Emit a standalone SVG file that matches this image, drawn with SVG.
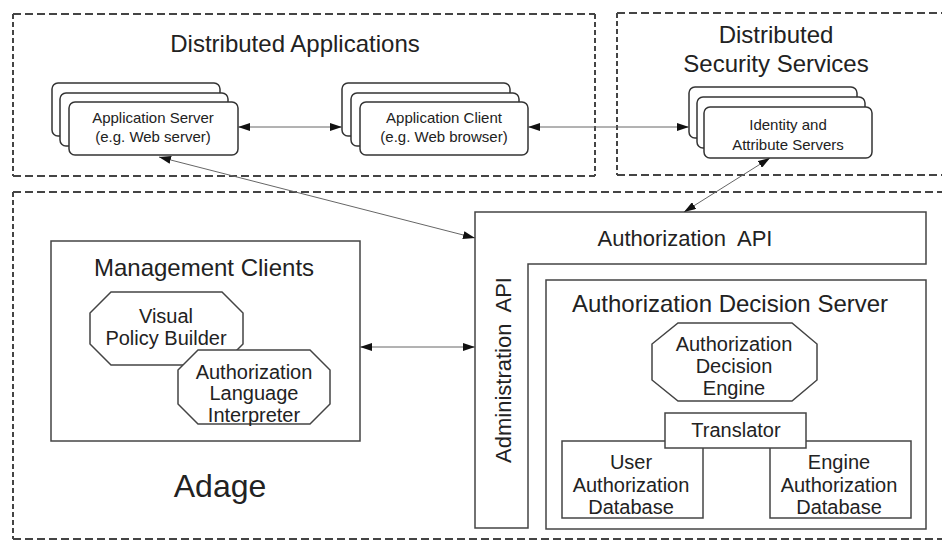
<svg xmlns="http://www.w3.org/2000/svg" width="942" height="543" viewBox="0 0 942 543">
  <defs>
    <marker id="arrow" viewBox="0 0 12 8" refX="12" refY="4" markerWidth="12" markerHeight="8" markerUnits="userSpaceOnUse" orient="auto-start-reverse">
      <path d="M0,0 L12,4 L0,8 z" fill="#111"/>
    </marker>
  </defs>
  <style>
    text { font-family: "Liberation Sans", Arial, sans-serif; fill: #222; text-anchor: middle; }
    .h { font-size: 24px; }
    .m { font-size: 20px; }
    .s { font-size: 15px; }
    .dh { stroke: #444; stroke-width: 2; stroke-dasharray: 8 4; fill: none; }
    .dv { stroke: #444; stroke-width: 2; stroke-dasharray: 5 3; fill: none; }
    .box { fill: #fff; stroke: #444; stroke-width: 1.5; }
    .card { fill: #fff; stroke: #333; stroke-width: 1.5; }
    .link { stroke: #666; stroke-width: 1; fill: none; marker-start: url(#arrow); marker-end: url(#arrow); }
  </style>
  <rect width="942" height="543" fill="#fff"/>

  <!-- dashed domain boundaries -->
  <g id="domains">
    <line class="dh" x1="13" y1="14" x2="595" y2="14"/>
    <line class="dh" x1="13" y1="176" x2="595" y2="176"/>
    <line class="dv" x1="13" y1="14" x2="13" y2="176"/>
    <line class="dv" x1="595" y1="14" x2="595" y2="176"/>

    <line class="dh" x1="617" y1="13" x2="945" y2="13"/>
    <line class="dh" x1="617" y1="175" x2="945" y2="175"/>
    <line class="dv" x1="617" y1="13" x2="617" y2="175"/>

    <line class="dh" x1="13" y1="192" x2="945" y2="192"/>
    <line class="dh" x1="13" y1="539" x2="945" y2="539"/>
    <line class="dv" x1="13" y1="192" x2="13" y2="539"/>
  </g>

  <g id="dist-apps-title">
    <text class="h" x="295" y="52">Distributed Applications</text>
  </g>
  <g id="dist-sec-title">
    <text class="h" x="776" y="43">Distributed</text>
    <text class="h" x="776" y="72">Security Services</text>
  </g>

  <g id="app-server">
    <rect class="card" x="52" y="83" width="168" height="53" rx="6"/>
    <rect class="card" x="60" y="93" width="168" height="53" rx="6"/>
    <rect class="card" x="69" y="102" width="169" height="53" rx="6"/>
    <text class="s" x="153" y="123">Application Server</text>
    <text class="s" x="153" y="142">(e.g. Web server)</text>
  </g>

  <g id="app-client">
    <rect class="card" x="342" y="83" width="168" height="53" rx="6"/>
    <rect class="card" x="351" y="93" width="168" height="53" rx="6"/>
    <rect class="card" x="360" y="102" width="168" height="53" rx="6"/>
    <text class="s" x="444" y="123">Application Client</text>
    <text class="s" x="444" y="142">(e.g. Web browser)</text>
  </g>

  <g id="identity-servers">
    <rect class="card" x="689" y="87" width="168" height="51" rx="6"/>
    <rect class="card" x="697" y="97" width="168" height="51" rx="6"/>
    <rect class="card" x="704" y="107" width="168" height="51" rx="6"/>
    <text class="s" x="788" y="130">Identity and</text>
    <text class="s" x="788" y="150">Attribute Servers</text>
  </g>

  <g id="management-clients">
    <rect class="box" x="51" y="241" width="309" height="200"/>
    <text class="h" x="204" y="276">Management Clients</text>
  </g>

  <g id="visual-policy-builder">
    <polygon class="box" points="111,292 222,292 243,313 243,344 222,365 111,365 90,344 90,313"/>
    <text class="m" x="166" y="323">Visual</text>
    <text class="m" x="166" y="345">Policy Builder</text>
  </g>

  <g id="language-interpreter">
    <polygon class="box" points="198,350 310,350 330,370 330,404 310,424 198,424 178,404 178,370"/>
    <text class="m" x="254" y="379">Authorization</text>
    <text class="m" x="254" y="400">Language</text>
    <text class="m" x="254" y="422">Interpreter</text>
  </g>

  <g id="adage-label">
    <text x="220" y="497" font-size="32">Adage</text>
  </g>

  <g id="api-layer">
    <polygon class="box" points="475,212 926,212 926,264 528,264 528,528 475,528"/>
    <text x="685" y="246" font-size="22" xml:space="preserve">Authorization  API</text>
    <text x="0" y="0" font-size="22" xml:space="preserve" transform="translate(511,370) rotate(-90)">Administration  API</text>
  </g>

  <g id="decision-server">
    <rect class="box" x="546" y="280" width="380" height="249"/>
    <text class="h" x="730" y="312">Authorization Decision Server</text>
  </g>

  <g id="decision-engine">
    <polygon class="box" points="678,323 792,323 817,344 817,380 792,401 678,401 652,380 652,344"/>
    <text class="m" x="734" y="351">Authorization</text>
    <text class="m" x="734" y="373">Decision</text>
    <text class="m" x="734" y="395">Engine</text>
  </g>

  <g id="user-db">
    <rect class="box" x="562" y="441" width="141" height="77"/>
    <text class="m" x="631" y="469">User</text>
    <text class="m" x="631" y="492">Authorization</text>
    <text class="m" x="631" y="514">Database</text>
  </g>

  <g id="engine-db">
    <rect class="box" x="770" y="441" width="141" height="77"/>
    <text class="m" x="839" y="469">Engine</text>
    <text class="m" x="839" y="492">Authorization</text>
    <text class="m" x="839" y="514">Database</text>
  </g>

  <g id="translator">
    <rect class="box" x="665" y="413" width="141" height="35"/>
    <text class="m" x="736" y="437">Translator</text>
  </g>

  <g id="connectors">
    <line class="link" x1="238" y1="127" x2="342" y2="127"/>
    <line class="link" x1="528" y1="127" x2="689" y2="127"/>
    <line class="link" x1="159" y1="157" x2="475" y2="238"/>
    <line class="link" x1="770" y1="158" x2="684" y2="212"/>
    <line class="link" x1="360" y1="347" x2="475" y2="347"/>
  </g>
</svg>
